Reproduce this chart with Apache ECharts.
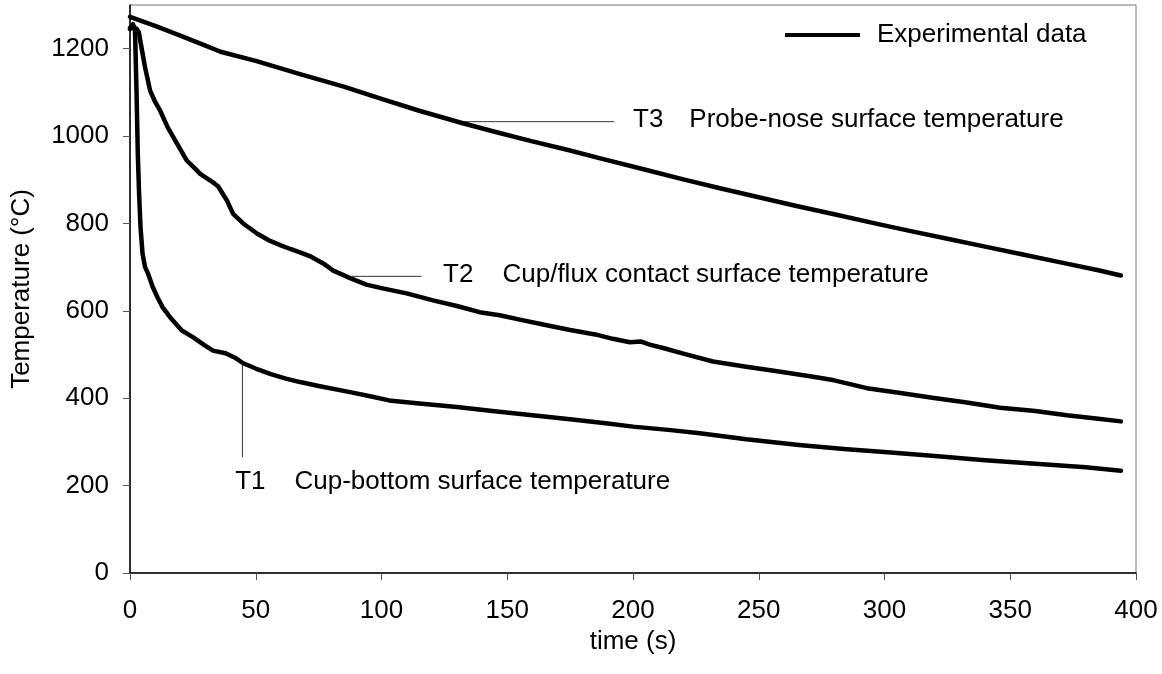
<!DOCTYPE html>
<html>
<head>
<meta charset="utf-8">
<script src="https://cdn.jsdelivr.net/npm/echarts@6/dist/echarts.min.js"></script>
<style>
  html, body { margin: 0; padding: 0; background: #fff; }
  #chart { width: 1162px; height: 674px; }
</style>
</head>
<body>
<div id="chart"></div>
<script>
// Cooling curves of the probe: time (s) vs temperature (°C)
const xTicks = [0, 50, 100, 150, 200, 250, 300, 350, 400];
const yTicks = [0, 200, 400, 600, 800, 1000, 1200];

// T3 – probe-nose surface
const t3 = [[0,1273],[10,1252],[20,1230],[30,1207],[36,1193],[50,1172],[67.6,1142],[85,1113],[100,1085],
  [115,1058],[132,1030],[145,1010],[160,988],[175,967],[187,949],[205,923],[220,901],[235,880],[250,860],
  [265,840],[280,821],[298,798],[310,783],[325,765],[340,747],[355,729],[370,711],[385,693],[394,681]];

// T2 – cup/flux contact surface
const t2 = [[0,1248],[1,1250],[2.5,1246],[3.5,1238],[4.5,1205],[6,1157],[8,1104],[10,1078],[12,1058],[15,1020],
  [18.7,983],[22.6,944],[26,925],[27.8,914],[30.6,903],[33,894],[35,885],[38.5,853],[41,822],[45,800],[50.5,777],
  [55,762],[60,750],[64,741],[67.6,734],[72,724],[77,708],[80.8,692],[84,684],[87.5,675],[94,660],[100,652],
  [110,640],[120.5,624],[130,611],[139,597],[147,590],[155,580],[165.7,567],[175,556],[185,546],[192,536],
  [198.8,528],[203,530],[207,522],[212,515],[220,502],[231.8,484],[245,472],[258,461],[271.6,449],[280,441],
  [293,423],[305,413],[319,401],[332,391],[346,378],[360,371],[372.5,361],[385,353],[394,347]];

// T1 – cup-bottom surface
const t1 = [[0,1245],[1.2,1256],[2,1240],[2.6,1100],[3.1,960],[3.6,870],[4.2,790],[5,730],[6,700],[7.2,685],
  [9,655],[11,630],[13,608],[16,585],[20.6,555],[25,540],[30,520],[33,509],[38,503],[42,492],[45,480],
  [50,468],[56,455],[62,445],[67.6,437],[75,428],[87.5,414],[95,405],[103,395],[115,388],[130,380],
  [145,370],[160,361],[175,352],[190,342],[200,335],[215,327],[226.6,320],[245,306],[266,293],[285,283],
  [300,277],[320,268],[340,258],[360,250],[380,242],[394,234]];

// Leader lines from each curve to its caption
const leaderT3 = [[132,1033],[192.5,1033]];
const leaderT2 = [[88,679],[115.9,679]];
const leaderT1 = [[44.7,480],[44.7,265]];

// Caption anchors (left-middle of each caption) and texts
const captions = [
  { at: [200, 1038], tag: 'T3', text: 'Probe-nose surface temperature', gap: 26 },
  { at: [124.5, 683], tag: 'T2', text: 'Cup/flux contact surface temperature', gap: 29 },
  { at: [41.8, 209], tag: 'T1', text: 'Cup-bottom surface temperature', gap: 29 }
];

const FONT = 'Liberation Sans, Arial, sans-serif';
const FS = 26;

const curveStyle = { color: '#000', width: 4.5, join: 'round', cap: 'round' };
function curve(data) {
  return { name: 'Experimental data', type: 'line', data: data, showSymbol: false, symbol: 'none',
    lineStyle: curveStyle, itemStyle: { color: '#000' }, smooth: false, z: 3, silent: true };
}
function leader(data) {
  return { name: 'leader', type: 'line', data: data, showSymbol: false, symbol: 'none',
    lineStyle: { color: '#333', width: 1 }, z: 2, silent: true };
}

const chart = echarts.init(document.getElementById('chart'), null, { renderer: 'canvas' });
chart.setOption({
  animation: false,
  backgroundColor: '#fff',
  textStyle: { fontFamily: FONT },
  grid: { left: 130, right: 26, top: 5, bottom: 101, show: true, borderColor: '#777', borderWidth: 1 },
  legend: {
    data: [{ name: 'Experimental data', icon: 'rect' }],
    left: 785, top: 22, padding: 0,
    itemWidth: 75, itemHeight: 4,
    textStyle: { fontFamily: FONT, fontSize: FS, color: '#000', padding: [0, 0, 0, 12] },
    selectedMode: false
  },
  xAxis: {
    type: 'value', min: 0, max: 400, interval: 50,
    name: 'time (s)', nameLocation: 'middle', nameGap: 46,
    nameTextStyle: { fontFamily: FONT, fontSize: FS, color: '#000' },
    axisLine: { show: true, lineStyle: { color: '#000', width: 1.5 } },
    axisTick: { show: true, length: 7, inside: false, customValues: xTicks, lineStyle: { color: '#555', width: 1 } },
    axisLabel: { customValues: xTicks, margin: 25, fontFamily: FONT, fontSize: FS, color: '#000',
      formatter: v => String(v) },
    splitLine: { show: false }
  },
  yAxis: {
    type: 'value', min: 0, max: 1300, interval: 200,
    name: 'Temperature (°C)', nameLocation: 'middle', nameGap: 95,
    nameTextStyle: { fontFamily: FONT, fontSize: FS, color: '#000' },
    axisLine: { show: true, lineStyle: { color: '#000', width: 1.5 } },
    axisTick: { show: true, length: 7, inside: false, customValues: yTicks, lineStyle: { color: '#555', width: 1 } },
    axisLabel: { customValues: yTicks, margin: 21, fontFamily: FONT, fontSize: FS, color: '#000',
      formatter: v => String(v) },
    splitLine: { show: false }
  },
  series: [
    leader(leaderT3), leader(leaderT2), leader(leaderT1),
    curve(t3), curve(t2), curve(t1),
    {
      name: 'captions', type: 'scatter', symbolSize: 0, silent: true, z: 4,
      itemStyle: { color: '#000', opacity: 1 },
      data: captions.map(c => ({
        value: c.at,
        label: {
          show: true, position: 'right', distance: 0, color: '#000',
          fontFamily: FONT, fontSize: FS,
          formatter: '{a|' + c.tag + '}{b|' + c.text + '}',
          rich: {
            a: { fontFamily: FONT, fontSize: FS, color: '#000' },
            b: { fontFamily: FONT, fontSize: FS, color: '#000', padding: [0, 0, 0, c.gap] }
          }
        }
      }))
    }
  ]
});
</script>
</body>
</html>
